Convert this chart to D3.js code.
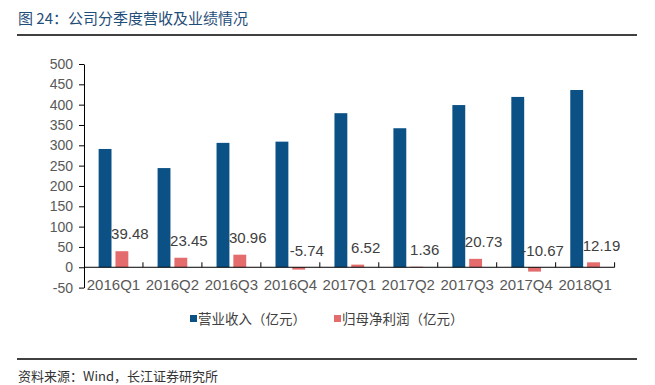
<!DOCTYPE html>
<html>
<head>
<meta charset="utf-8">
<script src="https://cdn.jsdelivr.net/npm/d3@7"></script>
<style>
  body { margin: 0; background: #fff; }
  svg { display: block; font-family: "Liberation Sans", Arial, sans-serif; }
</style>
</head>
<body>
<svg width="655" height="385"></svg>
<script>
var categories = ["2016Q1", "2016Q2", "2016Q3", "2016Q4", "2017Q1", "2017Q2", "2017Q3", "2017Q4", "2018Q1"];
var revenue = [291, 244, 306, 309, 379, 342, 399, 419, 436];
var profit = [39.48, 23.45, 30.96, -5.74, 6.52, 1.36, 20.73, -10.67, 12.19];
var yTicks = [-50, 0, 50, 100, 150, 200, 250, 300, 350, 400, 450, 500];
var seriesNames = ["营业收入（亿元）", "归母净利润（亿元）"];
var colors = ["#0c5185", "#e46c6c"];

var svg = d3.select("svg");

var plotLeft = 84, plotRight = 614.6, plotTop = 64, plotBottom = 287.6;

var x0 = d3.scaleBand()
	.domain(categories)
	.range([plotLeft, plotRight]);

var x1 = d3.scaleBand()
	.domain([0, 1])
	.range([0, x0.bandwidth()])
	.paddingInner(0.235)
	.paddingOuter(0.87);

var yScale = d3.scaleLinear()
	.domain([-50, 500])
	.range([plotBottom, plotTop]);

// title
svg.append("text")
	.attr("x", 18)
	.attr("y", 24)
	.attr("fill", "#1f4e79")
	.style("font-family", "'Noto Sans CJK SC', sans-serif")
	.style("font-size", "15px")
	.text("图 24：公司分季度营收及业绩情况");

svg.append("line")
	.attr("x1", 17).attr("x2", 637)
	.attr("y1", 35).attr("y2", 35)
	.attr("stroke", "#000").attr("stroke-width", 1.3);

// y axis
var yAxis = d3.axisLeft(yScale)
	.tickValues(yTicks)
	.tickFormat(function (d) { return String(d); })
	.tickSize(5)
	.tickSizeOuter(0)
	.tickPadding(6);

var gy = svg.append("g")
	.attr("transform", "translate(" + plotLeft + ",0)")
	.call(yAxis);
gy.selectAll("path, line").attr("stroke", "#000");
gy.selectAll("text")
	.attr("fill", "#595959")
	.style("font-size", "14px");

// bars
var rows = categories.map(function (c, i) {
	return { cat: c, values: [revenue[i], profit[i]] };
});

var groups = svg.selectAll(".grp")
	.data(rows)
	.enter().append("g")
	.attr("transform", function (d) { return "translate(" + x0(d.cat) + ",0)"; });

groups.selectAll("rect")
	.data(function (d) { return d.values.map(function (v, k) { return { k: k, v: v }; }); })
	.enter().append("rect")
	.attr("x", function (d) { return x1(d.k); })
	.attr("width", x1.bandwidth())
	.attr("y", function (d) { return yScale(Math.max(d.v, 0)); })
	.attr("height", function (d) { return Math.abs(yScale(d.v) - yScale(0)); })
	.attr("fill", function (d) { return colors[d.k]; });

// profit labels
svg.selectAll(".lbl")
	.data(profit)
	.enter().append("text")
	.attr("x", function (d, i) { return x0(categories[i]) + x1(1) + x1.bandwidth() / 2 + 8; })
	.attr("y", function (d) { return yScale(Math.max(d, 0)) - 17; })
	.attr("dy", "0.35em")
	.attr("text-anchor", "middle")
	.attr("fill", "#404040")
	.style("font-size", "15px")
	.text(function (d) { return d.toFixed(2); });

// x axis
var y0 = yScale(0);
svg.append("line")
	.attr("x1", plotLeft).attr("x2", plotRight)
	.attr("y1", y0).attr("y2", y0)
	.attr("stroke", "#000");

svg.selectAll(".xtick")
	.data(categories)
	.enter().append("line")
	.attr("x1", function (d) { return x0(d) + x0.bandwidth(); })
	.attr("x2", function (d) { return x0(d) + x0.bandwidth(); })
	.attr("y1", y0 - 5).attr("y2", y0)
	.attr("stroke", "#000");

svg.selectAll(".xlbl")
	.data(categories)
	.enter().append("text")
	.attr("x", function (d) { return x0(d) + x0.bandwidth() / 2; })
	.attr("y", 290)
	.attr("text-anchor", "middle")
	.attr("fill", "#595959")
	.style("font-size", "15px")
	.text(function (d) { return d; });

// legend
var legendX = [190, 334];
var legend = svg.selectAll(".leg")
	.data(seriesNames)
	.enter().append("g")
	.attr("transform", function (d, i) { return "translate(" + legendX[i] + ",315)"; });
legend.append("rect")
	.attr("width", 7).attr("height", 7)
	.attr("fill", function (d, i) { return colors[i]; });
legend.append("text")
	.attr("x", 8)
	.attr("y", 4)
	.attr("dy", "0.35em")
	.attr("fill", "#404040")
	.style("font-family", "'Noto Sans CJK SC', sans-serif")
	.style("font-size", "13.5px")
	.text(function (d) { return d; });

// source
svg.append("line")
	.attr("x1", 17).attr("x2", 637)
	.attr("y1", 359).attr("y2", 359)
	.attr("stroke", "#000").attr("stroke-width", 1.3);

svg.append("text")
	.attr("x", 18)
	.attr("y", 381)
	.attr("fill", "#333")
	.style("font-family", "'Noto Sans CJK SC', sans-serif")
	.style("font-size", "13px")
	.text("资料来源：Wind，长江证券研究所");
</script>
</body>
</html>
